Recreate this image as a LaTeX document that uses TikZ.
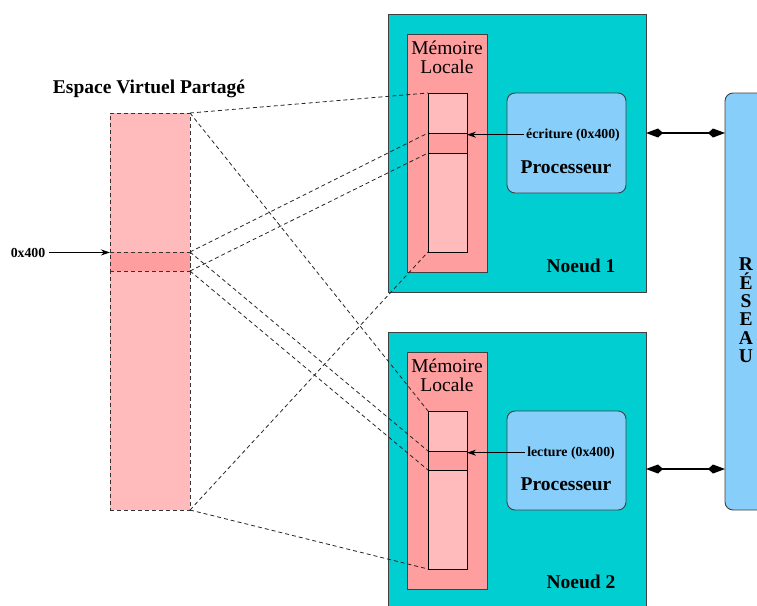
\documentclass[tikz,border=0pt]{standalone}
\usepackage{fontspec}
\setmainfont{Liberation Serif}
\usetikzlibrary{arrows.meta}
\definecolor{cyanbg}{RGB}{0,206,209}
\definecolor{memcol}{RGB}{255,158,158}
\definecolor{innercol}{RGB}{255,187,187}
\definecolor{procol}{RGB}{135,206,250}
\tikzset{
  box/.style={draw=black!75, line width=0.9pt, inner sep=0pt, outer sep=0pt, anchor=north west},
  innerbox/.style={draw=black, line width=0.9pt, inner sep=0pt, outer sep=0pt, anchor=north west},
  vsbox/.style={draw=black!80, line width=0.8pt, dash pattern=on 4pt off 3pt, inner sep=0pt, outer sep=0pt, anchor=north west},
  proc/.style={box, rounded corners=8pt, fill=procol},
  maplink/.style={draw=black!85, line width=0.8pt, dash pattern=on 4pt off 3pt},
  big/.style={font=\fontsize{19.5}{19.5}\selectfont, inner sep=0pt, anchor=base},
  bigb/.style={font=\bfseries\fontsize{19.5}{19.5}\selectfont, inner sep=0pt, anchor=base},
  small/.style={font=\bfseries\fontsize{13.8}{14}\selectfont, inner sep=0pt, anchor=base},
  netarrow/.style={line width=1.3pt, {Kite[length=17pt,width=9pt,inset=5pt]}-{Kite[length=17pt,width=9pt,inset=5pt]}},
  accarrow/.style={line width=0.9pt, -{Stealth[length=9pt,width=6pt]}}
}
\begin{document}
\begin{tikzpicture}[x=1pt,y=-1pt]
\path[use as bounding box] (0,0) rectangle (757,605);

% virtual shared space
\node[vsbox, fill=innercol, minimum width=80, minimum height=397] (vs) at (110,113) {};
\node[vsbox, fill=memcol, minimum width=80, minimum height=19] (vsb) at (110,252) {};
\node[bigb] (vslbl) at (149,93) {Espace Virtuel Partagé};
\node[small] (addr) at (28,257) {0x400};
\draw[accarrow] (addr.east) ++(4,0) coordinate (addrs) (addrs) -- (addrs -| vsb.west);

% node 1
\node[box, fill=cyanbg, minimum width=258, minimum height=278] (n1) at (388,14) {};
\node[box, fill=memcol, minimum width=80, minimum height=238] (m1) at (407,34) {};
\node[innerbox, fill=innercol, minimum width=39, minimum height=159] (in1) at (428,93) {};
\node[innerbox, fill=memcol, minimum width=39, minimum height=20] (b1) at (428,133) {};
\node[big] (m1a) at (447,54) {Mémoire};
\node[big] (m1b) at (447,73) {Locale};
\node[proc, minimum width=119, minimum height=100] (p1) at (507,93) {};
\node[small, inner sep=2pt] (ecr) at (573,138) {écriture (0x400)};
\node[bigb] (p1lbl) at (566,173) {Processeur};
\node[bigb] (n1lbl) at (581,272) {Noeud 1};
\draw[accarrow] (ecr.west) -- (ecr.west -| b1.east);

% node 2
\node[box, fill=cyanbg, minimum width=258, minimum height=276] (n2) at (388,332) {};
\node[box, fill=memcol, minimum width=80, minimum height=237] (m2) at (407,352) {};
\node[innerbox, fill=innercol, minimum width=39, minimum height=158] (in2) at (428,411) {};
\node[innerbox, fill=memcol, minimum width=39, minimum height=19] (b2) at (428,451) {};
\node[big] (m2a) at (447,372) {Mémoire};
\node[big] (m2b) at (447,391) {Locale};
\node[proc, minimum width=119, minimum height=99] (p2) at (507,411) {};
\node[small, inner sep=2pt] (lec) at (571,456) {lecture (0x400)};
\node[bigb] (p2lbl) at (566,490) {Processeur};
\node[bigb] (n2lbl) at (581,588) {Noeud 2};
\draw[accarrow] (lec.west) -- (lec.west -| b2.east);

% network
\node[box, rounded corners=8pt, fill=procol, minimum width=45, minimum height=417] (res) at (725,93) {};
\node[font=\bfseries\fontsize{19.5}{18.4}\selectfont, align=center, inner sep=0pt] (reslbl) at (746,310.5) {R\\É\\S\\E\\A\\U};
\coordinate (c1) at (646,133);
\coordinate (c2) at (646,469);
\draw[netarrow] (c1) -- (c1 -| res.west);
\draw[netarrow] (c2) -- (c2 -| res.west);

% mapping links
\draw[maplink] (vs.north east) -- (in1.north west);
\draw[maplink] (vs.north east) -- (in2.north west);
\draw[maplink] (vs.south east) -- (in1.south west);
\draw[maplink] (vs.south east) -- (in2.south west);
\draw[maplink] (vsb.north east) -- (b1.north west);
\draw[maplink] (vsb.north east) -- (b2.north west);
\draw[maplink] (vsb.south east) -- (b1.south west);
\draw[maplink] (vsb.south east) -- (b2.south west);
\end{tikzpicture}
\end{document}
